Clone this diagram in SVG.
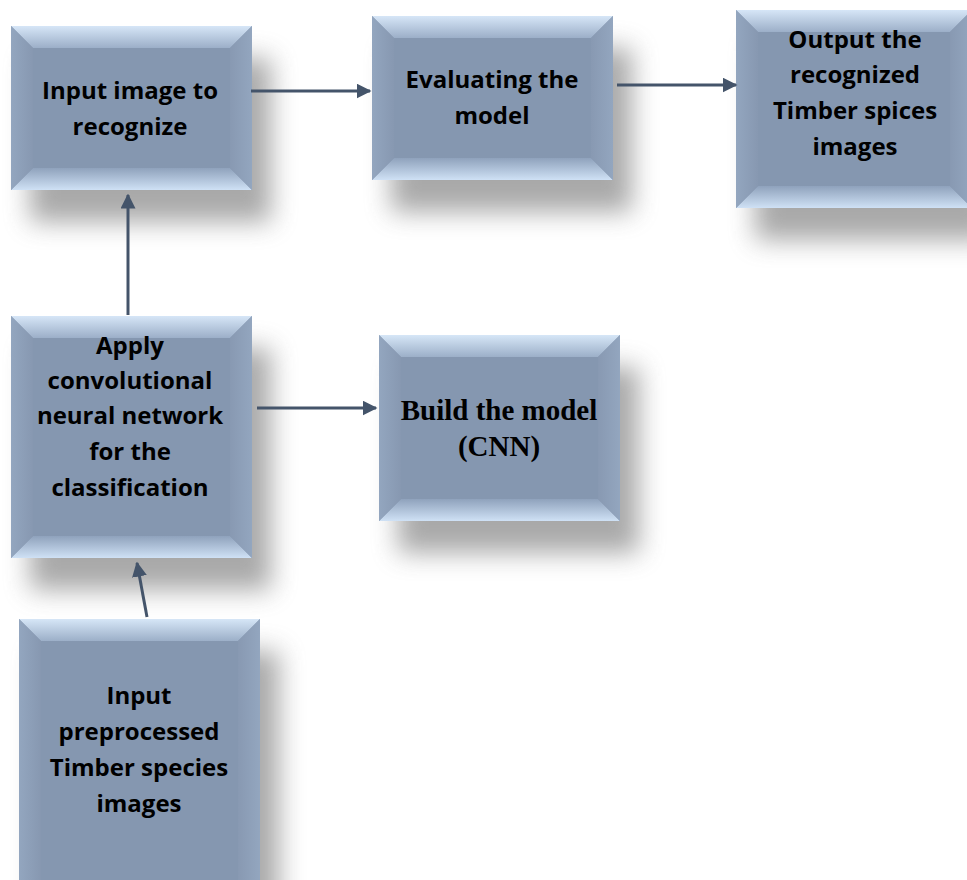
<svg xmlns="http://www.w3.org/2000/svg" width="967" height="880" viewBox="0 0 967 880">
  <style>
    .face { fill: #8597b0; }
    .bt { fill: url(#gTop); }
    .bb { fill: url(#gBot); }
    .bl { fill: url(#gLeft); }
    .br { fill: url(#gRight); }
    .shadow { fill: #6f6f6f; opacity: 0.6; filter: url(#blur); }
    .lbl { font-family: "Open Sans", "Liberation Sans", sans-serif; font-weight: bold; font-size: 24px; fill: #000; text-anchor: middle; }
    .lbl-serif { font-family: "Liberation Serif", "Times New Roman", serif; font-weight: bold; font-size: 29px; fill: #000; text-anchor: middle; }
    .edge { stroke: #44546a; stroke-width: 3; fill: none; marker-end: url(#arrow); }
  </style>
  <defs>
    <filter id="blur" x="-40%" y="-40%" width="180%" height="180%">
      <feGaussianBlur stdDeviation="13"/>
    </filter>
    <linearGradient id="gTop" x1="0" y1="0" x2="0" y2="1">
      <stop offset="0" stop-color="#d6e6f7"/>
      <stop offset="1" stop-color="#9cafc8"/>
    </linearGradient>
    <linearGradient id="gBot" x1="0" y1="0" x2="0" y2="1">
      <stop offset="0" stop-color="#8fa2bc"/>
      <stop offset="1" stop-color="#cfe1f5"/>
    </linearGradient>
    <linearGradient id="gLeft" x1="0" y1="0" x2="1" y2="0">
      <stop offset="0" stop-color="#93a6bf"/>
      <stop offset="1" stop-color="#8798b1"/>
    </linearGradient>
    <linearGradient id="gRight" x1="0" y1="0" x2="1" y2="0">
      <stop offset="0" stop-color="#8899b2"/>
      <stop offset="1" stop-color="#93a6bf"/>
    </linearGradient>
    <marker id="arrow" viewBox="0 0 10 10" refX="9" refY="5" markerWidth="5" markerHeight="5" orient="auto" markerUnits="strokeWidth">
      <path d="M0,0 L10,5 L0,10 z" fill="#44546a"/>
    </marker>
  </defs>

  <rect width="967" height="880" fill="#ffffff"/>

  <!-- Input image to recognize -->
  <g id="node-input-image">
    <rect class="shadow" x="30" y="58" width="241" height="164"/>
    <rect class="face" x="11" y="26" width="241" height="164"/>
    <polygon class="bt" points="11,26 252,26 230,48 33,48"/>
    <polygon class="bb" points="11,190 252,190 230,168 33,168"/>
    <polygon class="bl" points="11,26 33,48 33,168 11,190"/>
    <polygon class="br" points="252,26 230,48 230,168 252,190"/>
    <text class="lbl" x="130" y="99">Input image to</text>
    <text class="lbl" x="130" y="135">recognize</text>
  </g>

  <!-- Evaluating the model -->
  <g id="node-evaluate">
    <rect class="shadow" x="391" y="48" width="241" height="164"/>
    <rect class="face" x="372" y="16" width="241" height="164"/>
    <polygon class="bt" points="372,16 613,16 591,38 394,38"/>
    <polygon class="bb" points="372,180 613,180 591,158 394,158"/>
    <polygon class="bl" points="372,16 394,38 394,158 372,180"/>
    <polygon class="br" points="613,16 591,38 591,158 613,180"/>
    <text class="lbl" x="492" y="88">Evaluating the</text>
    <text class="lbl" x="492" y="124">model</text>
  </g>

  <!-- Output the recognized Timber spices images -->
  <g id="node-output">
    <rect class="shadow" x="755" y="42" width="236" height="198"/>
    <rect class="face" x="736" y="10" width="236" height="198"/>
    <polygon class="bt" points="736,10 972,10 950,32 758,32"/>
    <polygon class="bb" points="736,208 972,208 950,186 758,186"/>
    <polygon class="bl" points="736,10 758,32 758,186 736,208"/>
    <polygon class="br" points="972,10 950,32 950,186 972,208"/>
    <text class="lbl" x="855" y="48">Output the</text>
    <text class="lbl" x="855" y="83">recognized</text>
    <text class="lbl" x="855" y="119">Timber spices</text>
    <text class="lbl" x="855" y="155">images</text>
  </g>

  <!-- Apply convolutional neural network for the classification -->
  <g id="node-apply-cnn">
    <rect class="shadow" x="30" y="348" width="241" height="242"/>
    <rect class="face" x="11" y="316" width="241" height="242"/>
    <polygon class="bt" points="11,316 252,316 230,338 33,338"/>
    <polygon class="bb" points="11,558 252,558 230,536 33,536"/>
    <polygon class="bl" points="11,316 33,338 33,536 11,558"/>
    <polygon class="br" points="252,316 230,338 230,536 252,558"/>
    <text class="lbl" x="130" y="354">Apply</text>
    <text class="lbl" x="130" y="389">convolutional</text>
    <text class="lbl" x="130" y="424">neural network</text>
    <text class="lbl" x="130" y="460">for the</text>
    <text class="lbl" x="130" y="496">classification</text>
  </g>

  <!-- Build the model (CNN) -->
  <g id="node-build">
    <rect class="shadow" x="398" y="367" width="241" height="186"/>
    <rect class="face" x="379" y="335" width="241" height="186"/>
    <polygon class="bt" points="379,335 620,335 598,357 401,357"/>
    <polygon class="bb" points="379,521 620,521 598,499 401,499"/>
    <polygon class="bl" points="379,335 401,357 401,499 379,521"/>
    <polygon class="br" points="620,335 598,357 598,499 620,521"/>
    <text class="lbl-serif" x="499" y="420">Build the model</text>
    <text class="lbl-serif" x="499" y="456">(CNN)</text>
  </g>

  <!-- Input preprocessed Timber species images -->
  <g id="node-preprocessed">
    <rect class="shadow" x="38" y="651" width="241" height="270"/>
    <rect class="face" x="19" y="619" width="241" height="270"/>
    <polygon class="bt" points="19,619 260,619 238,641 41,641"/>
    <polygon class="bl" points="19,619 41,641 41,889 19,889"/>
    <polygon class="br" points="260,619 238,641 238,889 260,889"/>
    <text class="lbl" x="139" y="704">Input</text>
    <text class="lbl" x="139" y="740">preprocessed</text>
    <text class="lbl" x="139" y="776">Timber species</text>
    <text class="lbl" x="139" y="812">images</text>
  </g>

  <!-- Connectors -->
  <g id="connectors">
    <line class="edge" x1="251" y1="91" x2="370" y2="91"/>
    <line class="edge" x1="617" y1="85" x2="736" y2="85"/>
    <line class="edge" x1="128" y1="315" x2="128" y2="195"/>
    <line class="edge" x1="257" y1="408" x2="376" y2="408"/>
    <line class="edge" x1="147" y1="617" x2="137" y2="563"/>
  </g>
</svg>
